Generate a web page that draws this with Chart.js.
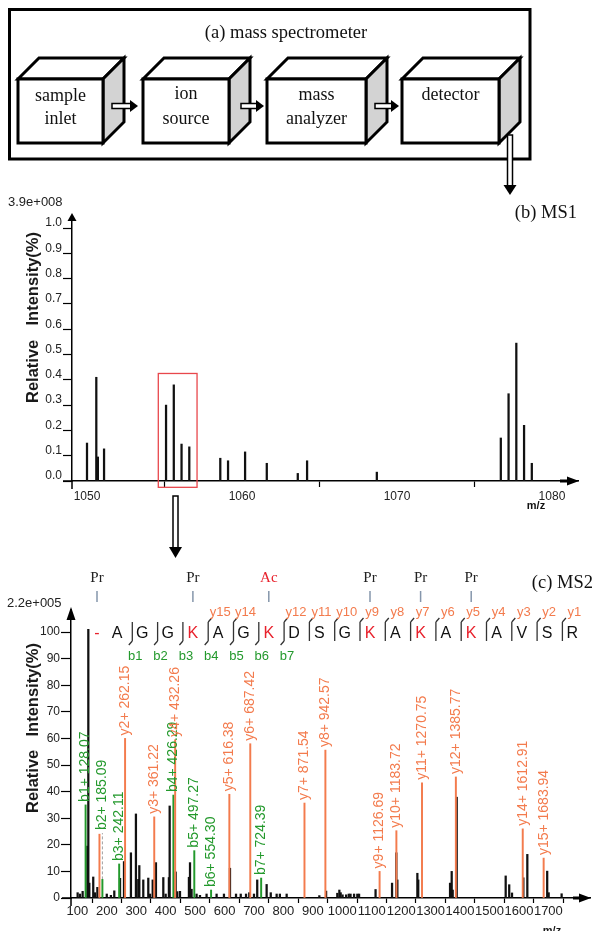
<!DOCTYPE html>
<html>
<head>
<meta charset="utf-8">
<script src="https://cdn.jsdelivr.net/npm/chart.js@4.4.1/dist/chart.umd.min.js"></script>
<style>
html,body{margin:0;padding:0;background:#fff;}
body{width:602px;height:931px;position:relative;overflow:hidden;}
canvas{position:absolute;left:0;}
#ms1{top:190px;}
#ms2{top:560px;}
#diagram{position:absolute;left:0;top:0;pointer-events:none;}
</style>
</head>
<body>
<canvas id="ms1" width="602" height="330"></canvas>
<canvas id="ms2" width="602" height="371"></canvas>
<svg id="diagram" width="602" height="931" xmlns="http://www.w3.org/2000/svg" font-family="'Liberation Serif','Times New Roman',serif">
  <rect x="9.5" y="9.5" width="520.5" height="149.5" fill="none" stroke="#000" stroke-width="3"/>
  <text x="286" y="38" font-size="18.5" text-anchor="middle" fill="#111">(a) mass spectrometer</text>
  <g stroke="#000" stroke-width="3" stroke-linejoin="miter">
    <polygon points="18,79 39,58 124,58 103,79" fill="#fff"/>
    <polygon points="103,79 124,58 124,122 103,143" fill="#d3d3d3"/>
    <rect x="18" y="79" width="85" height="64" fill="#fff"/>
    <polygon points="143,79 164,58 250,58 229,79" fill="#fff"/>
    <polygon points="229,79 250,58 250,122 229,143" fill="#d3d3d3"/>
    <rect x="143" y="79" width="86" height="64" fill="#fff"/>
    <polygon points="267,79 288,58 387,58 366,79" fill="#fff"/>
    <polygon points="366,79 387,58 387,122 366,143" fill="#d3d3d3"/>
    <rect x="267" y="79" width="99" height="64" fill="#fff"/>
    <polygon points="402,79 423,58 520,58 499,79" fill="#fff"/>
    <polygon points="499,79 520,58 520,122 499,143" fill="#d3d3d3"/>
    <rect x="402" y="79" width="97" height="64" fill="#fff"/>
  </g>
  <g font-size="18" text-anchor="middle" fill="#111">
    <text x="60.5" y="101">sample</text>
    <text x="60.5" y="124">inlet</text>
    <text x="186" y="99">ion</text>
    <text x="186" y="124">source</text>
    <text x="316.5" y="100">mass</text>
    <text x="316.5" y="124">analyzer</text>
    <text x="450.5" y="100">detector</text>
  </g>
  <g stroke="#000" stroke-width="1.5">
    <rect x="112" y="103.5" width="19" height="5" fill="#fff"/>
    <rect x="241" y="103.5" width="16" height="5" fill="#fff"/>
    <rect x="375" y="103.5" width="17" height="5" fill="#fff"/>
    <rect x="507.5" y="135" width="5" height="51" fill="#fff"/>
    <rect x="173" y="496" width="5" height="52" fill="#fff"/>
  </g>
  <g fill="#000">
    <polygon points="130,100 138,106 130,112"/>
    <polygon points="256,100 264,106 256,112"/>
    <polygon points="391,100 399,106 391,112"/>
    <polygon points="503.5,185 516.5,185 510,195"/>
    <polygon points="169,547 182,547 175.5,558"/>
  </g>
</svg>
<script>
// ================= DATA =================
// (b) MS1 spectrum
const ms1Mz  = [1050.0, 1050.6, 1050.7, 1051.1, 1055.1, 1055.6, 1056.1, 1056.6, 1058.6, 1059.1, 1060.2, 1061.6, 1063.6, 1064.2, 1068.7, 1076.7, 1077.2, 1077.7, 1078.2, 1078.7];
const ms1Int = [0.15, 0.41, 0.095, 0.127, 0.30, 0.38, 0.146, 0.135, 0.09, 0.08, 0.115, 0.07, 0.03, 0.08, 0.035, 0.17, 0.345, 0.545, 0.22, 0.07];
const ms1XTicks = [1050, 1060, 1070, 1080];
const ms1YTicks = [0, 0.1, 0.2, 0.3, 0.4, 0.5, 0.6, 0.7, 0.8, 0.9, 1.0];
const ms1SelMz  = [1054.6, 1057.1];     // highlighted precursor window
const ms1SelInt = [-0.025, 0.425];
const ms1ScaleText = '3.9e+008';

// (c) MS2 spectrum - unannotated peaks
const ms2Mz  = [101,109,118,134,137.3,140.7,154,160,168,200,214,225.5,245,258.5,282,299,307,310.5,324,341,347,356,367,392,400,411,413.6,434,439.5,448.7,479,482.7,488,505,516.6,539,573,598,618.5,639,655,673,684,700,711,743,757,777,788,811,922,945,983,990,994.5,1001,1013,1022,1028,1040,1051,1057,1113,1169,1183.5,1187,1255,1258,1366,1371.6,1375,1388.6,1555,1567,1576.5,1615,1628.5,1696,1701,1745];
const ms2Int = [2,1.5,2.5,19.5,101,5.6,7.9,2,4,1.5,1,2.7,7.4,13.7,17,31.6,7,12.2,6.8,7.5,1.5,6.8,13.3,7.7,1.5,7.7,34.6,9.8,2.4,2.5,7.8,13.3,3.3,1.5,1,1.5,1.5,1.5,11.2,1.5,1.5,1.5,2,1.5,6.8,5.1,2,1.5,1.5,1.5,0.9,2.6,1.8,3,2,1.2,1.2,1.5,1.5,1.5,1.5,1.5,3.2,5.6,17,6.8,9.3,6.8,5.6,10,3,37.9,8.3,5,1.9,7.6,16.4,10.1,2,1.6];
// y ions (orange)
const yIonMz    = [175.12, 262.15, 361.22, 432.26, 616.38, 687.42, 871.54, 942.57, 1126.69, 1183.72, 1270.75, 1385.77, 1612.91, 1683.94];
const yIonInt   = [24, 60, 30.5, 59.5, 39, 58, 35.7, 55.6, 10, 25.3, 43.3, 45.5, 26, 15];
const yIonLabel = ['', 'y2+ 262.15', 'y3+ 361.22', 'y4+ 432.26', 'y5+ 616.38', 'y6+ 687.42', 'y7+ 871.54', 'y8+ 942.57', 'y9+ 1126.69', 'y10+ 1183.72', 'y11+ 1270.75', 'y12+ 1385.77', 'y14+ 1612.91', 'y15+ 1683.94'];
// b ions (green)
const bIonMz      = [128.07, 185.09, 242.11, 426.29, 497.27, 554.30, 724.39];
const bIonInt     = [35, 7, 12.8, 38.7, 17.8, 3, 7.5];
const bIonLabelAt = [35, 24.4, 12.8, 38.7, 17.8, 3, 7.5];
const bIonLabel   = ['b1+ 128.07', 'b2+ 185.09', 'b3+ 242.11', 'b4+ 426.29', 'b5+ 497.27', 'b6+ 554.30', 'b7+ 724.39'];
const ms2XTicks = [100,200,300,400,500,600,700,800,900,1000,1100,1200,1300,1400,1500,1600,1700];
const ms2YTicks = [0,10,20,30,40,50,60,70,80,90,100];
const ms2ScaleText = '2.2e+005';
// peptide annotation
const peptide = ['-','A','G','G','K','A','G','K','D','S','G','K','A','K','A','K','A','V','S','R'];
const modSite = [0, 4, 7, 11, 13, 15];
const modName = ['Pr', 'Pr', 'Ac', 'Pr', 'Pr', 'Pr'];
const bSite = [1, 2, 3, 4, 5, 6, 7];
const bName = ['b1','b2','b3','b4','b5','b6','b7'];
const ySite = [4, 5, 7, 8, 9, 10, 11, 12, 13, 14, 15, 16, 17, 18];
const yName = ['y15','y14','y12','y11','y10','y9','y8','y7','y6','y5','y4','y3','y2','y1'];

// ================= STYLE =================
const F_SANS = '"Liberation Sans", Arial, sans-serif';
const F_SERIF = '"Liberation Serif", "Times New Roman", serif';
const ORANGE = '#f37b4d', GREEN = '#23992c', RED = '#e8212c', BLACK = '#111';

function stick(xs, ys, color, w, order) {
  return { type: 'bar', data: xs.map((x, i) => ({ x: x, y: ys[i] })), backgroundColor: color,
           borderWidth: 0, barThickness: w, grouped: false, order: order };
}
function drawRotated(ctx, text, cx, cy, align) {
  ctx.save(); ctx.translate(cx, cy); ctx.rotate(-Math.PI / 2);
  ctx.textAlign = align; ctx.textBaseline = 'middle'; ctx.fillText(text, 0, 0); ctx.restore();
}
function axisExtras(ctx, ca, upLen, upTip, rightBack) {
  ctx.strokeStyle = '#000'; ctx.lineWidth = 1.5;
  ctx.beginPath();
  ctx.moveTo(ca.left - 9, ca.bottom); ctx.lineTo(ca.left, ca.bottom);
  ctx.moveTo(ca.left, ca.bottom); ctx.lineTo(ca.left, ca.bottom + 8);
  ctx.moveTo(ca.left, ca.top); ctx.lineTo(ca.left, ca.top - upTip + 2);
  ctx.stroke();
  ctx.fillStyle = '#000';
  ctx.beginPath(); ctx.moveTo(ca.left, ca.top - upTip); ctx.lineTo(ca.left - 4.5, ca.top - upTip + upLen);
  ctx.lineTo(ca.left + 4.5, ca.top - upTip + upLen); ctx.closePath(); ctx.fill();
  ctx.beginPath(); ctx.moveTo(ca.right + 1, ca.bottom); ctx.lineTo(ca.right - 11, ca.bottom - 4.5);
  ctx.lineTo(ca.right - 11, ca.bottom + 4.5); ctx.closePath(); ctx.fill();
  ctx.lineWidth = 3; ctx.beginPath(); ctx.moveTo(ca.right - rightBack, ca.bottom); ctx.lineTo(ca.right - 10, ca.bottom); ctx.stroke();
}

// ================= MS1 =================
const ms1Deco = {
  id: 'ms1deco',
  afterDraw(chart) {
    const { ctx, chartArea: ca } = chart; const x = chart.scales.x, y = chart.scales.y;
    ctx.save();
    const x0 = x.getPixelForValue(ms1SelMz[0]), x1 = x.getPixelForValue(ms1SelMz[1]);
    const y0 = y.getPixelForValue(ms1SelInt[1]), y1 = y.getPixelForValue(ms1SelInt[0]);
    ctx.strokeStyle = '#e8474c'; ctx.lineWidth = 1.3; ctx.strokeRect(x0, y0, x1 - x0, y1 - y0);
    axisExtras(ctx, ca, 8, 4, 18);
    ctx.fillStyle = '#222'; ctx.font = '13px ' + F_SANS; ctx.textAlign = 'left'; ctx.textBaseline = 'middle';
    ctx.fillText(ms1ScaleText, 8, 12);
    ctx.font = '18.5px ' + F_SERIF; ctx.textAlign = 'right'; ctx.fillStyle = '#111';
    ctx.fillText('(b) MS1', 577, 23);
    ctx.font = 'bold 11px ' + F_SANS; ctx.textAlign = 'center'; ctx.fillText('m/z', 536, 316);
    ctx.font = 'bold 16.5px ' + F_SANS; ctx.fillStyle = '#1a1a1a';
    drawRotated(ctx, 'Relative', 33, 403 - 190, 'left');
    drawRotated(ctx, 'Intensity(%)', 33, 232 - 190, 'right');
    ctx.restore();
  }
};

new Chart(document.getElementById('ms1'), {
  type: 'bar',
  data: { datasets: [ stick(ms1Mz, ms1Int, BLACK, 1.6, 1) ] },
  options: {
    responsive: false, animation: false, devicePixelRatio: 1,
    layout: { padding: { left: 0, right: 24, top: 27, bottom: 0 } },
    plugins: { legend: { display: false }, tooltip: { enabled: false } },
    scales: {
      x: { type: 'linear', min: 1049.032, max: 1081.68, offset: false,
           afterBuildTicks: s => { s.ticks = ms1XTicks.map(v => ({ value: v })); },
           afterFit: s => { s.height = 39; },
           ticks: { font: { family: F_SANS, size: 12 }, color: '#222', padding: 2, maxRotation: 0, minRotation: 0, autoSkip: false, callback: v => String(v) },
           grid: { display: true, drawOnChartArea: false, drawTicks: true, tickLength: 6, tickColor: '#000', tickWidth: 1.2 },
           border: { display: true, color: '#000', width: 1.5 } },
      y: { type: 'linear', min: 0, max: 1.0435,
           afterBuildTicks: s => { s.ticks = ms1YTicks.map(v => ({ value: v })); },
           afterFit: s => { s.width = 72; },
           ticks: { font: { family: F_SANS, size: 12 }, color: '#222', padding: 1, labelOffset: -5, autoSkip: false, callback: v => v.toFixed(1) },
           grid: { display: true, drawOnChartArea: false, drawTicks: true, tickLength: 9, tickColor: '#000', tickWidth: 1.2 },
           border: { display: true, color: '#000', width: 1.5 } }
    }
  },
  plugins: [ms1Deco]
});

// ================= MS2 =================
const seqX = i => (i === 0 ? 97 : 117 + 25.3 * (i - 1));
const brX = i => seqX(i) + 15.3;

const ms2Deco = {
  id: 'ms2deco',
  afterDatasetsDraw(chart) {
    const { ctx } = chart; const x = chart.scales.x, y = chart.scales.y;
    ctx.save(); ctx.font = '14px ' + F_SANS;
    const lab = (mz, v, txt, col) => {
      if (!txt) return;
      ctx.fillStyle = col;
      drawRotated(ctx, txt, x.getPixelForValue(mz), y.getPixelForValue(v) - 3, 'left');
    };
    bIonMz.forEach((m, i) => lab(m, bIonLabelAt[i], bIonLabel[i], GREEN));
    yIonMz.forEach((m, i) => lab(m, yIonInt[i], yIonLabel[i], ORANGE));
    ctx.restore();
  },
  afterDraw(chart) {
    const { ctx, chartArea: ca } = chart;
    const T = 560; // page offset of this canvas
    ctx.save();
    axisExtras(ctx, ca, 13, 5, 17);
    ctx.fillStyle = '#222'; ctx.font = '13px ' + F_SANS; ctx.textAlign = 'left'; ctx.textBaseline = 'middle';
    ctx.fillText(ms2ScaleText, 7, 603 - T);
    ctx.font = '18.5px ' + F_SERIF; ctx.textAlign = 'right'; ctx.fillStyle = '#111';
    ctx.fillText('(c) MS2', 593, 583 - T);
    ctx.font = 'bold 16.5px ' + F_SANS; ctx.fillStyle = '#1a1a1a';
    drawRotated(ctx, 'Relative', 33, 813 - T, 'left');
    drawRotated(ctx, 'Intensity(%)', 33, 643 - T, 'right');
    ctx.font = 'bold 11px ' + F_SANS; ctx.textAlign = 'center'; ctx.textBaseline = 'top';
    ctx.fillText('m/z', 552, 925 - T);
    // modifications
    ctx.textBaseline = 'middle'; ctx.font = '15px ' + F_SERIF;
    modSite.forEach((s, i) => {
      const px = seqX(s);
      ctx.fillStyle = modName[i] === 'Ac' ? RED : '#222';
      ctx.fillText(modName[i], px, 578 - T);
      ctx.strokeStyle = '#8596ab'; ctx.lineWidth = 1.5;
      ctx.beginPath(); ctx.moveTo(px, 591 - T); ctx.lineTo(px, 602 - T); ctx.stroke();
    });
    // sequence
    ctx.font = '16px ' + F_SANS;
    peptide.forEach((r, i) => {
      ctx.fillStyle = (r === 'K' || r === '-') ? RED : '#111';
      ctx.fillText(r, seqX(i), 633.5 - T);
    });
    // fragment brackets
    ctx.strokeStyle = '#333'; ctx.lineWidth = 1.3;
    const sites = new Set(bSite.concat(ySite));
    sites.forEach(s => {
      const bx = brX(s);
      ctx.beginPath(); ctx.moveTo(bx, 622 - T); ctx.lineTo(bx, 641 - T);
      if (bSite.includes(s)) { ctx.moveTo(bx, 641 - T); ctx.lineTo(bx - 3.5, 645 - T); }
      if (ySite.includes(s)) { ctx.moveTo(bx, 622 - T); ctx.lineTo(bx + 3.5, 618 - T); }
      ctx.stroke();
    });
    ctx.font = '13px ' + F_SANS;
    ctx.fillStyle = GREEN;
    bSite.forEach((s, i) => ctx.fillText(bName[i], brX(s) + 3, 656 - T));
    ctx.fillStyle = ORANGE;
    ySite.forEach((s, i) => ctx.fillText(yName[i], brX(s) + 12, 612 - T));
    ctx.restore();
  }
};

const dashPts = [];
bIonMz.forEach((m, i) => {
  if (bIonLabelAt[i] > bIonInt[i]) { dashPts.push({ x: m, y: bIonInt[i] }, { x: m, y: bIonLabelAt[i] }, { x: m, y: null }); }
});

new Chart(document.getElementById('ms2'), {
  type: 'bar',
  data: { datasets: [
    stick(yIonMz, yIonInt, ORANGE, 1.3, 0),
    stick(bIonMz, bIonInt, GREEN, 1.3, 1),
    { type: 'line', data: dashPts, borderColor: '#a0a0a0', borderWidth: 1, borderDash: [3, 2], pointRadius: 0, spanGaps: false, order: 2 },
    stick(ms2Mz, ms2Int, BLACK, 1.6, 3)
  ] },
  options: {
    responsive: false, animation: false, devicePixelRatio: 1,
    layout: { padding: { left: 0, right: 12, top: 52, bottom: 0 } },
    plugins: { legend: { display: false }, tooltip: { enabled: false } },
    scales: {
      x: { type: 'linear', min: 78.46, max: 1841.4, offset: false,
           afterBuildTicks: s => { s.ticks = ms2XTicks.map(v => ({ value: v })); },
           afterFit: s => { s.height = 33; },
           ticks: { font: { family: F_SANS, size: 13 }, color: '#222', padding: 1, maxRotation: 0, minRotation: 0, autoSkip: false, callback: v => String(v) },
           grid: { display: true, drawOnChartArea: false, drawTicks: true, tickLength: 5, tickColor: '#000', tickWidth: 1.2 },
           border: { display: true, color: '#000', width: 1.5 } },
      y: { type: 'linear', min: 0, max: 107.52,
           afterBuildTicks: s => { s.ticks = ms2YTicks.map(v => ({ value: v })); },
           afterFit: s => { s.width = 71; },
           ticks: { font: { family: F_SANS, size: 12 }, color: '#222', padding: 1, autoSkip: false, callback: v => String(v) },
           grid: { display: true, drawOnChartArea: false, drawTicks: true, tickLength: 10, tickColor: '#000', tickWidth: 1.2 },
           border: { display: true, color: '#000', width: 1.5 } }
    }
  },
  plugins: [ms2Deco]
});
</script>
</body>
</html>
